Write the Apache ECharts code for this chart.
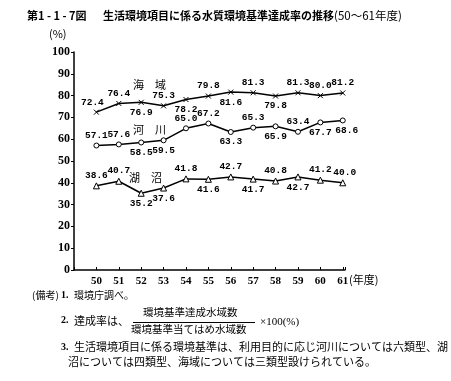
<!DOCTYPE html>
<html>
<head>
<meta charset="utf-8">
<script src="https://cdn.jsdelivr.net/npm/echarts@6/dist/echarts.min.js"></script>
<style>
html,body{margin:0;padding:0;background:#fff;}
#chart{width:451px;height:381px;}
</style>
</head>
<body>
<div id="chart"></div>
<script>
// ---- data ----
var years = [50, 51, 52, 53, 54, 55, 56, 57, 58, 59, 60, 61];
var seaValues = [72.4, 76.4, 76.9, 75.3, 78.2, 79.8, 81.6, 81.3, 79.8, 81.3, 80.0, 81.2];
var riverValues = [57.1, 57.6, 58.5, 59.5, 65.0, 67.2, 63.3, 65.3, 65.9, 63.4, 67.7, 68.6];
var lakeValues = [38.6, 40.7, 35.2, 37.6, 41.8, 41.6, 42.7, 41.7, 40.8, 42.7, 41.2, 40.0];
var yTicks = [0, 10, 20, 30, 40, 50, 60, 70, 80, 90, 100];

// label placement (style only)
var seaLabelPos = ['top','top','bottom','top','bottom','top','bottom','top','bottom','top','top','top'];
var riverLabelPos = ['top','top','bottom','bottom','top','top','bottom','top','bottom','top','bottom','bottom'];
var lakeLabelPos = ['top','top','bottom','bottom','top','bottom','top','bottom','top','bottom','top','top'];

var numFont = 'Liberation Mono';
var jpFont = '"Noto Sans CJK JP"';

function buildData(values, positions) {
  return years.map(function (y, i) {
    var off = [0, 0];
    if (i === 0 && positions === seaLabelPos) off = [-4, 0];
    if (i === years.length - 1 && positions === riverLabelPos) off = [4, 0];
    if (i === years.length - 1 && positions === lakeLabelPos) off = [2, 0];
    return {
      value: [y, values[i]],
      label: {
        position: positions[i],
        distance: 2,
        offset: off
      }
    };
  });
}

var labelCommon = {
  show: true,
  color: '#000',
  fontFamily: numFont,
  fontWeight: 'bold',
  fontSize: 9.5,
  formatter: function (p) { return p.value[1].toFixed(1); }
};

var chart = echarts.init(document.getElementById('chart'), null, {renderer: 'canvas'});

var option = {
  animation: false,
  backgroundColor: '#fff',
  grid: {left: 74, top: 52, width: 271, height: 218, containLabel: false},
  xAxis: {
    type: 'value',
    min: 49,
    max: 61.1,
    interval: 1,
    axisLine: {show: true, lineStyle: {color: '#000', width: 1.5}},
    axisTick: {show: true, inside: true, length: 3, lineStyle: {color: '#000'}},
    splitLine: {show: false},
    axisLabel: {
      color: '#000', fontFamily: 'Liberation Serif', fontWeight: 'bold', fontSize: 11, margin: 6,
      formatter: function (v) { return years.indexOf(v) >= 0 ? String(v) : ''; }
    }
  },
  yAxis: {
    type: 'value',
    min: 0,
    max: 100,
    interval: 10,
    axisLine: {show: true, lineStyle: {color: '#000', width: 1.5}},
    axisTick: {show: true, inside: false, length: 3, lineStyle: {color: '#000'}},
    splitLine: {show: false},
    axisLabel: {
      color: '#000', fontFamily: 'Liberation Serif', fontWeight: 'bold', fontSize: 12, margin: 4,
      formatter: function (v) { return yTicks.indexOf(v) >= 0 ? String(v) : ''; }
    }
  },
  series: [
    {
      name: '海域', type: 'line',
      data: buildData(seaValues, seaLabelPos),
      symbol: 'path://M0,0L10,10M10,0L0,10',
      symbolSize: 5,
      lineStyle: {color: '#000', width: 1.5},
      itemStyle: {color: '#fff', borderColor: '#000', borderWidth: 1},
      label: labelCommon
    },
    {
      name: '河川', type: 'line',
      data: buildData(riverValues, riverLabelPos),
      symbol: 'circle',
      symbolSize: 5,
      lineStyle: {color: '#000', width: 1.5},
      itemStyle: {color: '#fff', borderColor: '#000', borderWidth: 1},
      label: labelCommon
    },
    {
      name: '湖沼', type: 'line',
      data: buildData(lakeValues, lakeLabelPos),
      symbol: 'triangle',
      symbolSize: 6,
      lineStyle: {color: '#000', width: 1.5},
      itemStyle: {color: '#fff', borderColor: '#000', borderWidth: 1},
      label: labelCommon
    }
  ],
  graphic: [
    {type: 'text', left: 27, top: 10, style: {text: '第1 - 1 - 7図', font: 'bold 11px ' + jpFont, fill: '#000'}},
    {type: 'text', left: 103, top: 10, style: {text: '生活環境項目に係る水質環境基準達成率の推移', font: 'bold 11px ' + jpFont, fill: '#000'}},
    {type: 'text', left: 334, top: 10, style: {text: '(50～61年度)', font: '11.5px ' + jpFont, fill: '#000'}},
    {type: 'text', left: 49, top: 28, style: {text: '(%)', font: '11px ' + jpFont, fill: '#000'}},
    {type: 'text', left: 349, top: 274, style: {text: '(年度)', font: '11px ' + jpFont, fill: '#000'}},
    // series names
    {type: 'text', left: 133, top: 79, style: {text: '海　域', font: '11px ' + jpFont, fill: '#000'}},
    {type: 'text', left: 133, top: 124, style: {text: '河　川', font: '11px ' + jpFont, fill: '#000'}},
    {type: 'text', left: 129, top: 172, style: {text: '湖　沼', font: '11px ' + jpFont, fill: '#000'}},
    // notes
    {type: 'text', left: 32, top: 290, style: {text: '(備考)', font: '10px ' + jpFont, fill: '#000'}},
    {type: 'text', left: 61, top: 290, style: {text: '1.', font: 'bold 10px Liberation Serif', fill: '#000'}},
    {type: 'text', left: 74, top: 290, style: {text: '環境庁調べ。', font: '10px ' + jpFont, fill: '#000'}},
    {type: 'text', left: 61, top: 315, style: {text: '2.', font: 'bold 10px Liberation Serif', fill: '#000'}},
    {type: 'text', left: 74, top: 315, style: {text: '達成率は、', font: '11px ' + jpFont, fill: '#000'}},
    {type: 'text', left: 143, top: 307, style: {text: '環境基準達成水域数', font: '10.5px ' + jpFont, fill: '#000'}},
    {type: 'line', shape: {x1: 133, y1: 322.5, x2: 255, y2: 322.5}, style: {stroke: '#000', lineWidth: 1}},
    {type: 'text', left: 131, top: 324, style: {text: '環境基準当てはめ水域数', font: '10.5px ' + jpFont, fill: '#000'}},
    {type: 'text', left: 260, top: 317, style: {text: '×100(%)', font: '11px Liberation Serif', fill: '#000'}},
    {type: 'text', left: 61, top: 342, style: {text: '3.', font: 'bold 10px Liberation Serif', fill: '#000'}},
    {type: 'text', left: 74, top: 341, style: {text: '生活環境項目に係る環境基準は、利用目的に応じ河川については六類型、湖', font: '11px ' + jpFont, fill: '#000'}},
    {type: 'text', left: 68, top: 356, style: {text: '沼については四類型、海域については三類型設けられている。', font: '11px ' + jpFont, fill: '#000'}}
  ]
};
chart.setOption(option);
</script>
</body>
</html>
